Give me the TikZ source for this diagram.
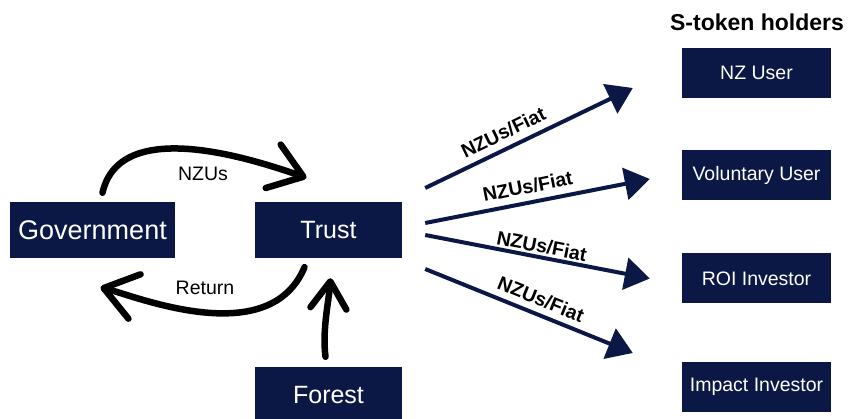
\documentclass[tikz,border=0pt]{standalone}
\usepackage{fontspec}
\setmainfont{Liberation Sans}
\usetikzlibrary{arrows.meta}
\definecolor{navy}{HTML}{0B1846}
\begin{document}
\begin{tikzpicture}[x=1pt,y=-1pt,
 box/.style={fill=navy,text=white,inner sep=0pt,minimum height=56pt,font=\fontsize{25}{30}\selectfont},
 holder/.style={fill=navy,text=white,inner sep=0pt,minimum width=149pt,minimum height=50pt,font=\fontsize{19.5}{24}\selectfont},
 flow/.style={draw=navy,line width=4pt,-{Triangle[length=25pt,width=32pt]}},
 loop/.style={draw=black,line width=6.5pt,line cap=round,-{Straight Barb[length=32pt,width=46pt,round]}},
 lbl/.style={font=\fontsize{19.5}{24}\selectfont,inner sep=0pt},
 flbl/.style={font=\bfseries\fontsize{19.5}{23}\selectfont,sloped,inner sep=1pt},
 title/.style={font=\bfseries\fontsize{23}{27}\selectfont,inner sep=0pt}]
\useasboundingbox (0,0) rectangle (849,419);
\fill[white] (0,0) rectangle (849,419);
% left nodes
\node[box,minimum width=165pt,font=\fontsize{27}{32}\selectfont] (gov) at (92.5,230) {Government};
\node[box,minimum width=147pt] (trust) at (328.5,230) {Trust};
\node[box,minimum width=147pt] (forest) at (328.5,395) {Forest};
% holders
\node[title] (ttl) at (757,22) {S-token holders};
\node[holder] (nz) at (756.5,73) {NZ User};
\node[holder] (vol) at (756.5,175) {Voluntary User};
\node[holder] (roi) at (756.5,278.5) {ROI Investor};
\node[holder] (imp) at (756.5,387) {Impact Investor};
% loop labels
\node[lbl] (lnzu) at (203,174) {NZUs};
\node[lbl] (lret) at (205,288) {Return};
% loop arrows
\draw[loop] ([shift={(10,-9)}]gov.north) .. controls (120,115) and (255,160) .. ([shift={(-22,-24)}]trust.north);
\draw[loop] ([shift={(-24,9)}]trust.south) .. controls (270,350) and (140,298) .. ([shift={(8,29)}]gov.south);
\draw[loop,-{Straight Barb[length=27pt,width=36pt,round]}] ([shift={(-3,-10)}]forest.north) .. controls (322,330) and (329,300) .. ([shift={(2,20)}]trust.south);
% flows
\draw[flow] ([shift={(23,-42)}]trust.east) -- node[flbl,pos=0.41,above=6pt] {NZUs/Fiat} ([shift={(-49,15)}]nz.west);
\draw[flow] ([shift={(23,-7)}]trust.east) -- node[flbl,pos=0.47,above=6pt] {NZUs/Fiat} ([shift={(-32,4)}]vol.west);
\draw[flow] ([shift={(23,5)}]trust.east) -- node[flbl,pos=0.51,above=1pt] {NZUs/Fiat} ([shift={(-32,0)}]roi.west);
\draw[flow] ([shift={(23,39)}]trust.east) -- node[flbl,pos=0.53,above=5pt] {NZUs/Fiat} ([shift={(-49,-34)}]imp.west);
\end{tikzpicture}
\end{document}
